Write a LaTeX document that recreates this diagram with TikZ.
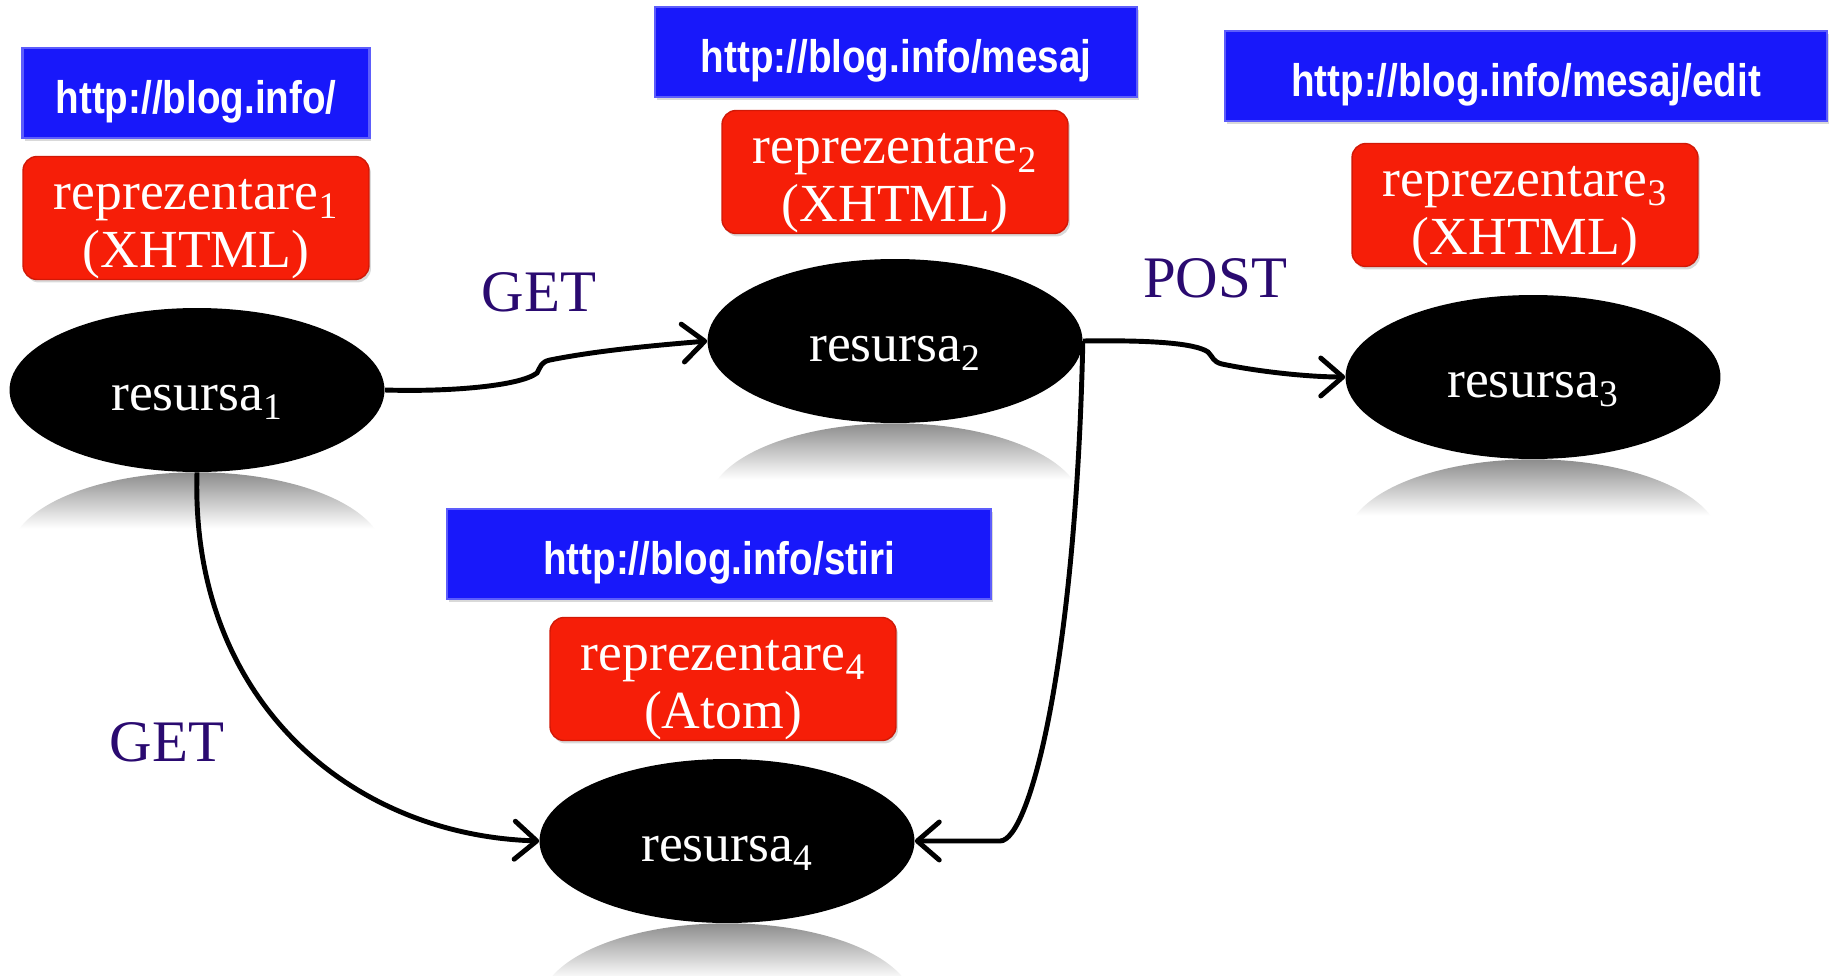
\documentclass[tikz,border=0pt]{standalone}
\usepackage{fontspec}
\setmainfont{Liberation Serif}
\newfontfamily\urlfont[FakeStretch=0.845]{Liberation Sans}
\usepackage{tikz}
\usetikzlibrary{calc, arrows.meta, shapes.geometric, shadows}
\definecolor{urlBlue}{RGB}{24,24,250}
\definecolor{repRed}{RGB}{246,30,8}
\definecolor{verbPurple}{RGB}{42,10,112}

\begin{document}
\begin{tikzpicture}[
  x=0.02cm, y=0.02cm,
  >={Straight Barb[length=4.4mm, width=7.6mm, round]},
  url/.style={rectangle, fill=urlBlue, draw=urlBlue!70!white, line width=1.2pt,
    text=white, inner sep=0pt, minimum height=1.8cm,
    text height=26pt, text depth=3.2pt,
    font=\urlfont\bfseries\fontsize{26}{30}\selectfont,
    drop shadow={shadow xshift=0.04cm, shadow yshift=-0.06cm, opacity=0.3}},
  rep/.style={rectangle, rounded corners=0.28cm, fill=repRed, draw=repRed!85!black,
    line width=0.8pt, text=white, align=center, inner sep=0pt,
    minimum width=6.92cm, minimum height=2.37cm,
    text height=63pt, text depth=7pt,
    font=\fontsize{30.5}{33}\selectfont,
    drop shadow={shadow xshift=0.04cm, shadow yshift=-0.06cm, opacity=0.3}},
  res/.style={ellipse, fill=black, text=white, inner sep=0pt,
    minimum width=7.5cm, minimum height=3.28cm,
    text height=24pt, text depth=1.2pt,
    font=\fontsize{30.5}{33}\selectfont},
  verb/.style={text=verbPurple, font=\fontsize{33.5}{38}\selectfont},
  link/.style={->, line width=2.8pt},
]
\useasboundingbox (0,0) rectangle (1831,-976);

% --- URLs, representations and resources ---------------------------
\node[url, minimum width=6.94cm] (url1) at (196,-93) {http://blog.info/};
\node[rep] (rep1) at (196,-218) {reprezentare\textsubscript{1}\\(XHTML)};
\node[res] (res1) at (197,-390) {resursa\textsubscript{1}};

\node[url, minimum width=9.64cm] (url2) at (896,-52) {http://blog.info/mesaj};
\node[rep] (rep2) at (895,-172) {reprezentare\textsubscript{2}\\(XHTML)};
\node[res] (res2) at (895,-341) {resursa\textsubscript{2}};

\node[url, minimum width=12.04cm] (url3) at (1526,-76) {http://blog.info/mesaj/edit};
\node[rep] (rep3) at (1525,-205) {reprezentare\textsubscript{3}\\(XHTML)};
\node[res] (res3) at (1533,-377) {resursa\textsubscript{3}};

\node[url, minimum width=10.88cm] (url4) at (719,-554) {http://blog.info/stiri};
\node[rep] (rep4) at (723,-679) {reprezentare\textsubscript{4}\\(Atom)};
\node[res] (res4) at (727,-841) {resursa\textsubscript{4}};

% Reflections under the resources
\foreach \r in {res1,res2,res3,res4} {
  \begin{scope}
    \clip ($(\r.south)+(0,-82)$) ellipse [x radius=187, y radius=82];
    \shade[top color=black!45, bottom color=white]
      ($(\r.south)+(-190,0)$) rectangle ($(\r.south)+(190,-56)$);
  \end{scope}
}

% HTTP methods
\node[verb] (get1) at (539,-292) {GET};
\node[verb] (post) at (1215,-278) {POST};
\node[verb] (get2) at (167,-742) {GET};

% Links between resources
\draw[link] (res1.east) .. controls (450,-392) and (520,-386) .. (537,-373)
  .. controls (541,-366) and (541,-362) .. (550,-360)
  .. controls (600,-350) and (660,-345) .. (res2.west);
\draw[link] (res2.east) .. controls (1150,-340) and (1195,-343) .. (1208,-352)
  .. controls (1213,-357) and (1213,-362) .. (1222,-364)
  .. controls (1260,-372) and (1310,-377) .. (res3.west);
\draw[link] (res2.east) .. controls (1076,-660) and (1030,-841) .. (1000,-841)
  -- (res4.east);
\draw[link] (res1.south) .. controls (190,-700) and (350,-835) .. (res4.west);
\end{tikzpicture}
\end{document}
